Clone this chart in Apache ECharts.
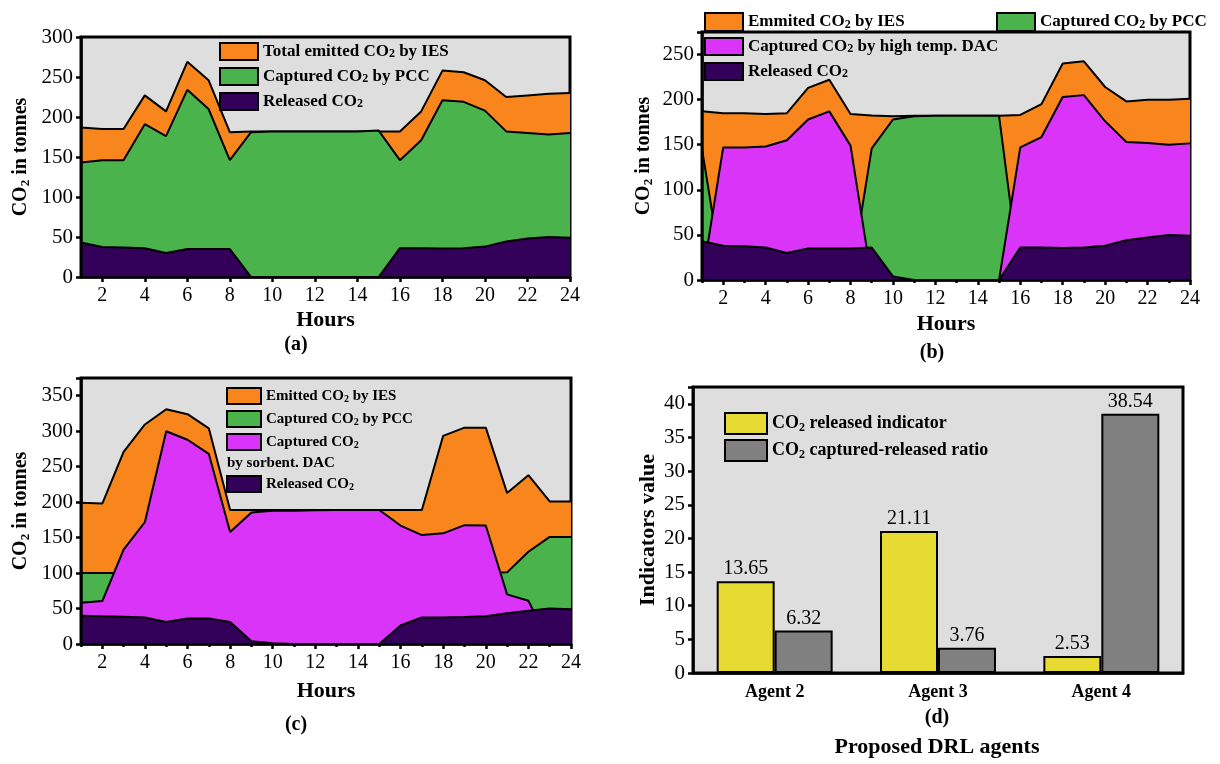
<!DOCTYPE html>
<html>
<head>
<meta charset="utf-8">
<script src="https://cdn.jsdelivr.net/npm/echarts@6/dist/echarts.min.js"></script>
<style>
  html, body { margin: 0; padding: 0; background: #fff; }
  #main { width: 1220px; height: 764px; }
</style>
</head>
<body>
<div id="main"></div>
<script>
// hours on the x axis of panels a, b, c
const hours = ['1','2','3','4','5','6','7','8','9','10','11','12','13','14','15','16','17','18','19','20','21','22','23','24'];

// (a)
const aEmitted  = [187, 185, 185, 227, 207, 269, 246, 181, 182, 182, 182, 182, 182, 182, 182, 182, 207, 258, 256, 246, 225, 227, 229, 230];
const aPCC      = [143, 146, 146, 191, 176, 234, 210, 146, 181, 182, 182, 182, 182, 182, 183, 146, 171, 221, 219, 208, 182, 180, 178, 180];
const aReleased = [43, 37.5, 37, 36, 30, 35, 35, 35, 0, 0, 0, 0, 0, 0, 0, 36, 36, 35.5, 36, 38, 44.5, 48, 50, 49];

// (b)
const bEmitted  = [187, 185, 185, 184, 185, 213, 222, 184, 182.5, 181.5, 182, 182, 182, 182, 182, 183, 195, 240, 242.5, 214, 198, 200, 200, 201];
const bPCC      = [145, 0, 0, 0, 0, 0, 0, 0, 146, 178, 181.5, 182, 182, 182, 182, 0, 0, 0, 0, 0, 0, 0, 0, 0];
const bDAC      = [0, 147, 147, 148, 155, 178, 187, 149, 0, 0, 0, 0, 0, 0, 0, 147, 158.5, 203, 205, 176, 153, 152, 150, 151.5];
const bReleased = [43, 38, 37.5, 36, 30, 35, 35, 35, 36, 4, 0, 0, 0, 0, 0, 36, 36, 35.5, 36, 38, 44, 47, 50, 49];

// (c)
const cEmitted  = [199, 198, 271, 309.5, 331, 324, 304, 189, 189, 189, 189, 189, 189, 189, 189, 189, 189, 293.5, 305, 305, 213, 238, 201, 201];
const cPCC      = [100, 100, 100, 100, 100, 100, 100, 100, 100, 100, 100, 100, 100, 100, 100, 100, 100, 100, 100, 100, 101, 130, 151, 151];
const cDAC      = [58, 60.5, 133, 172, 300, 288, 268, 158, 185.5, 188, 188, 188.5, 189, 189, 189, 167, 153.5, 156, 167.5, 167, 70, 61, 0, 0];
const cReleased = [40, 39, 38.5, 37.5, 31, 36, 36, 31, 3.8, 1, 0, 0, 0, 0, 0, 26, 37.5, 37.5, 38, 39, 43.5, 47, 50, 49];

// (d)
const agents = ['Agent 2', 'Agent 3', 'Agent 4'];
const releasedIndicator = [13.65, 21.11, 2.53];
const capturedReleasedRatio = [6.32, 3.76, 38.54];

const FONT = 'Liberation Serif';
const ORANGE = '#f8861c', GREEN = '#4bb34b', MAGENTA = '#d934f7', DARK = '#33005a';
const YELLOW = '#e6da33', GREY = '#808080', BG = '#dedede';

function subRich(lh, size) {
  return { s: { fontFamily: FONT, fontWeight: 'bold', fontSize: size || 11, lineHeight: lh, verticalAlign: 'bottom', color: '#000' } };
}
const subFmt = name => name.replace('CO2', 'CO{s|2}');

// layer = drawing order inside a panel (later ones cover earlier ones)
function area(name, data, color, xi, yi, layer) {
  return {
    name: name, type: 'line', xAxisIndex: xi, yAxisIndex: yi, data: data,
    z: 2 + layer, symbol: 'none', silent: true,
    lineStyle: { color: '#000', width: 2 },
    itemStyle: { color: color },
    areaStyle: { color: color, opacity: 1 },
    emphasis: { disabled: true }
  };
}

// one legend per item so every box sits where it is in the figure
function legendItem(name, color, left, top, w, h, size) {
  return {
    left: left, top: top, padding: 0, z: 20, itemWidth: w, itemHeight: h, itemGap: 0,
    icon: 'rect', selectedMode: false,
    itemStyle: { borderColor: '#000', borderWidth: 2 },
    data: [{ name: name, itemStyle: { color: color, borderColor: '#000', borderWidth: 2 } }],
    formatter: subFmt,
    textStyle: { fontFamily: FONT, fontWeight: 'bold', fontSize: size, lineHeight: size, color: '#000', rich: subRich(h, Math.round(size * 0.68)) }
  };
}

function hourAxis(idx, minor, gap) {
  const axes = [{
    type: 'category', gridIndex: idx, data: hours, boundaryGap: false, z: 10,
    axisLine: { lineStyle: { color: '#000', width: 2.5 } },
    axisTick: { interval: i => i % 2 === 1, length: 5, lineStyle: { color: '#000', width: 2.5 } },
    axisLabel: { interval: i => i % 2 === 1, fontFamily: FONT, fontSize: 20, color: '#000', margin: 9 },
    name: 'Hours', nameLocation: 'middle', nameGap: gap,
    nameTextStyle: { fontFamily: FONT, fontWeight: 'bold', fontSize: 22, color: '#000' }
  }];
  if (minor) {
    axes.push({
      type: 'category', gridIndex: idx, data: hours, boundaryGap: false, position: 'bottom', z: 10,
      axisLine: { show: false },
      axisTick: { interval: i => i % 2 === 0, length: 3, lineStyle: { color: '#000', width: 2.5 } },
      axisLabel: { show: false }
    });
  }
  return axes;
}

function valueAxis(idx, max, interval, name, gap, nameSize) {
  return {
    type: 'value', gridIndex: idx, min: 0, max: max, interval: interval, z: 10,
    splitLine: { show: false },
    axisLine: { show: true, lineStyle: { color: '#000', width: 2.5 } },
    axisTick: { show: true, length: 5, lineStyle: { color: '#000', width: 2.5 } },
    axisLabel: {
      fontFamily: FONT, fontSize: 21, color: '#000', margin: 8,
      formatter: v => (Math.abs(v / interval - Math.round(v / interval)) < 1e-6 ? String(v) : '')
    },
    name: name, nameLocation: 'middle', nameGap: gap,
    nameTextStyle: { fontFamily: FONT, fontWeight: 'bold', fontSize: nameSize, color: '#000', rich: subRich(22, 13) }
  };
}

const gridBase = { show: true, backgroundColor: BG, borderColor: '#000', borderWidth: 3 };

// axis indices: a -> 0, b -> 1 (+2 minor), c -> 3 (+4 minor), d -> 5
const xAxes = [].concat(hourAxis(0, false, 32), hourAxis(1, true, 33), hourAxis(2, true, 36));
xAxes.push({
  type: 'category', gridIndex: 3, data: agents, z: 10,
  axisLine: { lineStyle: { color: '#000', width: 2.5 } },
  axisTick: { alignWithLabel: true, length: 5, lineStyle: { color: '#000', width: 2.5 } },
  axisLabel: { fontFamily: FONT, fontWeight: 'bold', fontSize: 18, color: '#000', margin: 10 }
});

const yAxes = [
  valueAxis(0, 300, 50, 'CO{s|2} in tonnes', 49, 20),
  valueAxis(1, 275, 50, 'CO{s|2} in tonnes', 47, 20),
  valueAxis(2, 375, 50, 'CO{s|2} in tonnes', 49, 20),
  valueAxis(3, 42.5, 5, 'Indicators value', 34, 22)
];

const barLabel = { show: true, position: 'top', distance: 2, fontFamily: FONT, fontSize: 20, color: '#000' };

const series = [
  area('Total emitted CO2 by IES', aEmitted, ORANGE, 0, 0, 0),
  area('Captured CO2 by PCC', aPCC, GREEN, 0, 0, 1),
  area('Released CO2', aReleased, DARK, 0, 0, 2),

  area('Emmited CO2 by IES', bEmitted, ORANGE, 1, 1, 0),
  area('Captured CO2 by PCC', bPCC, GREEN, 1, 1, 1),
  area('Captured CO2 by high temp. DAC', bDAC, MAGENTA, 1, 1, 2),
  area('Released CO2', bReleased, DARK, 1, 1, 3),

  area('Emitted CO2 by IES', cEmitted, ORANGE, 3, 2, 0),
  area('Captured CO2 by PCC', cPCC, GREEN, 3, 2, 1),
  area('Captured CO2', cDAC, MAGENTA, 3, 2, 2),
  area('Released CO2', cReleased, DARK, 3, 2, 3),

  {
    name: 'CO2 released indicator', type: 'bar', xAxisIndex: 5, yAxisIndex: 3,
    data: releasedIndicator, barGap: '0%', barCategoryGap: '29%', silent: true,
    itemStyle: { color: YELLOW, borderColor: '#000', borderWidth: 2 }, label: barLabel
  },
  {
    name: 'CO2 captured-released ratio', type: 'bar', xAxisIndex: 5, yAxisIndex: 3,
    data: capturedReleasedRatio, barGap: '0%', barCategoryGap: '29%', silent: true,
    itemStyle: { color: GREY, borderColor: '#000', borderWidth: 2 }, label: barLabel
  }
];

function label(text, x, y, size) {
  return {
    type: 'text', x: x, y: y, z: 100,
    style: { text: text, fontFamily: FONT, fontWeight: 'bold', fontSize: size, fill: '#000', align: 'center', verticalAlign: 'middle' }
  };
}

const option = {
  animation: false,
  backgroundColor: '#fff',
  grid: [
    Object.assign({ left: 81, top: 37, width: 489, height: 240 }, gridBase),
    Object.assign({ left: 702, top: 32, width: 488, height: 248 }, gridBase),
    Object.assign({ left: 81, top: 378, width: 490, height: 266 }, gridBase),
    Object.assign({ left: 693, top: 387, width: 490, height: 286 }, gridBase)
  ],
  xAxis: xAxes,
  yAxis: yAxes,
  legend: [
    legendItem('Total emitted CO2 by IES', ORANGE, 219, 42, 38, 17, 17),
    legendItem('Captured CO2 by PCC', GREEN, 219, 67, 38, 17, 17),
    legendItem('Released CO2', DARK, 219, 92, 38, 17, 17),

    legendItem('Emmited CO2 by IES', ORANGE, 704, 12, 38, 18, 17),
    legendItem('Captured CO2 by PCC', GREEN, 996, 12, 38, 18, 17),
    legendItem('Captured CO2 by high temp. DAC', MAGENTA, 704, 37, 38, 17, 17),
    legendItem('Released CO2', DARK, 704, 62, 38, 17, 17),

    legendItem('Emitted CO2 by IES', ORANGE, 226, 387, 34, 16, 15),
    legendItem('Captured CO2 by PCC', GREEN, 226, 410, 34, 16, 15),
    legendItem('Captured CO2', MAGENTA, 226, 433, 34, 16, 15),
    legendItem('Released CO2', DARK, 226, 475, 34, 16, 15),

    legendItem('CO2 released indicator', YELLOW, 724, 412, 42, 21, 18),
    legendItem('CO2 captured-released ratio', GREY, 724, 439, 42, 21, 18)
  ],
  graphic: [
    { type: 'text', x: 227, y: 463, z: 100,
      style: { text: 'by sorbent. DAC', fontFamily: FONT, fontWeight: 'bold', fontSize: 15, fill: '#000', align: 'left', verticalAlign: 'middle' } },
    label('(a)', 296, 345, 20),
    label('(b)', 932, 353, 20),
    label('(c)', 296, 725, 20),
    label('(d)', 937, 718, 20),
    label('Proposed DRL agents', 937, 747, 22)
  ],
  series: series
};

const chart = echarts.init(document.getElementById('main'));
chart.setOption(option);
</script>
</body>
</html>
